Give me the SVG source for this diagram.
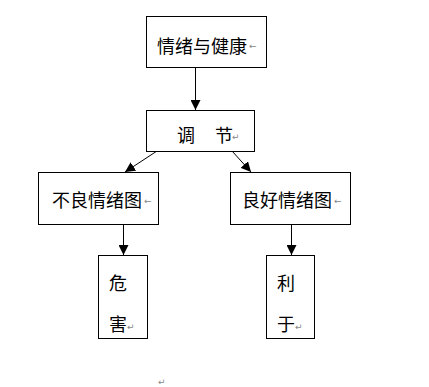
<svg xmlns="http://www.w3.org/2000/svg" width="429" height="387" viewBox="0 0 429 387">
<style>
.box{fill:#fff;stroke:#000;stroke-width:1}
.t{font-family:"Noto Sans CJK SC","Liberation Sans",sans-serif;font-size:18px;fill:#000}
.m{font-family:"DejaVu Sans",sans-serif;font-size:9px;fill:#888}
.c{stroke:#000;stroke-width:1;fill:none;marker-end:url(#ah)}
</style>
<defs>
<marker id="ah" markerUnits="userSpaceOnUse" markerWidth="10" markerHeight="10" refX="10" refY="5" orient="auto">
<path d="M0,0 L10,5 L0,10 z" fill="#000"/>
</marker>
</defs>
<rect width="429" height="387" fill="#fff"/>
<g id="connectors">
<line class="c" x1="195.5" y1="67" x2="195.5" y2="110"/>
<line class="c" x1="157" y1="151" x2="125" y2="172"/>
<line class="c" x1="232" y1="151" x2="251" y2="172"/>
<line class="c" x1="123.5" y1="224" x2="123.5" y2="255"/>
<line class="c" x1="291.5" y1="224" x2="291.5" y2="255"/>
</g>
<g id="n1">
<rect class="box" x="146.5" y="16.5" width="120" height="51"/>
<text class="t" x="157" y="52.5">情绪与健康</text>
<text class="m" x="249" y="49">←</text>
</g>
<g id="n2">
<rect class="box" x="146.5" y="110.5" width="108" height="41"/>
<text class="t" x="177" y="141.5">调</text>
<text class="t" x="215" y="141.5">节</text>
<text class="m" x="232" y="140">↵</text>
</g>
<g id="n3">
<rect class="box" x="38.5" y="172.5" width="120" height="52"/>
<text class="t" x="52" y="207">不良情绪图</text>
<text class="m" x="144" y="204">←</text>
</g>
<g id="n4">
<rect class="box" x="230.5" y="172.5" width="120" height="52"/>
<text class="t" x="242" y="207">良好情绪图</text>
<text class="m" x="334" y="204">←</text>
</g>
<g id="n5">
<rect class="box" x="98.5" y="255.5" width="49" height="83"/>
<text class="t" x="109" y="290">危</text>
<text class="t" x="109" y="331">害</text>
<text class="m" x="127" y="330">↵</text>
</g>
<g id="n6">
<rect class="box" x="266.5" y="255.5" width="48" height="83"/>
<text class="t" x="277" y="290">利</text>
<text class="t" x="277" y="331">于</text>
<text class="m" x="295" y="330">↵</text>
</g>
<text class="m" x="158" y="385">↵</text>
</svg>
